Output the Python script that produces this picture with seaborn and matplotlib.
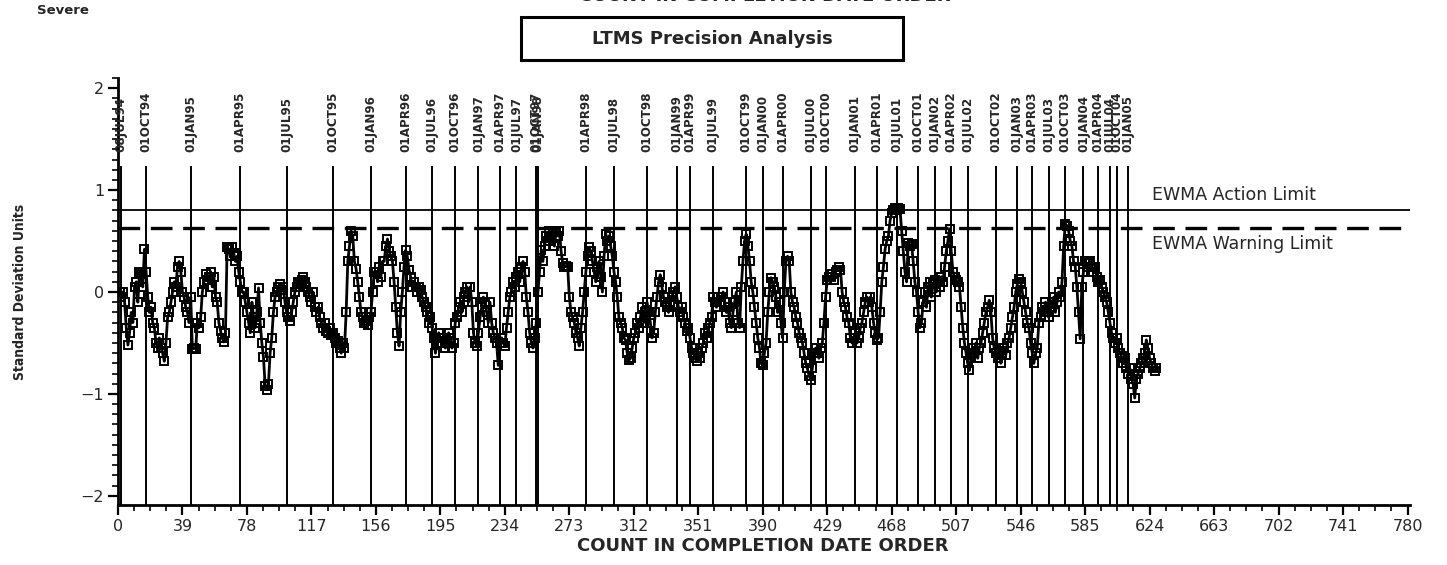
import matplotlib
matplotlib.use("Agg")
import numpy as np
import pandas as pd
import seaborn as sns
import matplotlib.pyplot as plt
from matplotlib.patches import Rectangle
from matplotlib.ticker import MultipleLocator
from matplotlib import font_manager

# ---------------- data ----------------
ewma = [
    0.0, -0.05, 0.0, -0.1, -0.35,
    -0.52, -0.4, -0.2, -0.3, 0.05,
    0.1, -0.1, 0.2, 0.18, 0.05,
    0.42, 0.2, -0.05, -0.2, -0.15,
    -0.3, -0.35, -0.5, -0.55, -0.45,
    -0.55, -0.6, -0.68, -0.5, -0.25,
    -0.2, -0.1, 0.0, 0.1, 0.05,
    0.25, 0.3, 0.2, 0.0, -0.05,
    -0.15, -0.2, -0.3, -0.05, -0.56,
    -0.55, -0.56, -0.3, -0.35, -0.25,
    0.0, 0.1, 0.18, 0.12, 0.15,
    0.2, 0.05, 0.15, -0.05, -0.1,
    -0.3, -0.38, -0.45, -0.49, -0.4,
    0.44, 0.42, 0.35, 0.44, 0.38,
    0.3, 0.35, 0.2, 0.1, 0.0,
    0.0, -0.1, -0.2, -0.3, -0.4,
    -0.1, -0.25, -0.35, -0.2, 0.04,
    -0.3, -0.5, -0.64, -0.92, -0.96,
    -0.9, -0.6, -0.45, -0.2, -0.05,
    0.0, 0.05, 0.08, 0.02, 0.05,
    -0.1, -0.2, -0.25, -0.28, -0.2,
    -0.1, 0.0, 0.05, 0.1, 0.08,
    0.12, 0.15, 0.1, 0.05, 0.0,
    -0.05, -0.1, 0.0, -0.15, -0.2,
    -0.15, -0.25, -0.3, -0.35, -0.3,
    -0.38, -0.4, -0.35, -0.42, -0.4,
    -0.45, -0.5, -0.48, -0.55, -0.6,
    -0.5, -0.55, -0.2, 0.3, 0.45,
    0.6, 0.55, 0.3, 0.23, 0.1,
    -0.05, -0.2, -0.25, -0.3, -0.28,
    -0.32, -0.25, -0.2, 0.0, 0.2,
    0.2, 0.1, 0.25, 0.15, 0.3,
    0.3, 0.45, 0.52, 0.4, 0.35,
    0.3, 0.1, -0.15, -0.4, -0.53,
    -0.2, 0.0, 0.25, 0.41, 0.35,
    0.22, 0.15, 0.05, 0.1, 0.05,
    0.0, 0.05, 0.02, -0.05, -0.1,
    -0.15, -0.2, -0.3, -0.25, -0.35,
    -0.45, -0.6, -0.5, -0.4, -0.45,
    -0.5, -0.45, -0.55, -0.5, -0.4,
    -0.45, -0.55, -0.5, -0.3, -0.25,
    -0.15, -0.1, -0.2, -0.05, 0.0,
    0.05, -0.1, 0.05, -0.1, -0.4,
    -0.5, -0.53, -0.4, -0.25, -0.15,
    -0.05, -0.1, -0.2, -0.3, -0.1,
    -0.3, -0.4, -0.45, -0.5, -0.72,
    -0.5, -0.45, -0.5, -0.53, -0.35,
    -0.2, -0.05, 0.0, 0.1, 0.05,
    0.15, 0.2, 0.1, 0.25, 0.3,
    0.2, -0.05, -0.2, -0.4, -0.5,
    -0.55, -0.45, -0.3, 0.0, 0.2,
    0.41, 0.3, 0.45, 0.55, 0.5,
    0.6, 0.55, 0.6, 0.45, 0.6,
    0.55, 0.6, 0.4, 0.28, 0.25,
    0.26, 0.25, -0.05, -0.2, -0.25,
    -0.3, -0.4, -0.45, -0.53, -0.35,
    -0.2, 0.0, 0.2, 0.35, 0.44,
    0.4, 0.3, 0.2, 0.1, 0.25,
    0.3, 0.15, 0.0, 0.35, 0.57,
    0.5, 0.55, 0.45, 0.35, 0.2,
    0.1, -0.05, -0.25, -0.3, -0.35,
    -0.45, -0.47, -0.6, -0.67, -0.65,
    -0.55, -0.45, -0.4, -0.3, -0.35,
    -0.25, -0.15, -0.3, -0.2, -0.1,
    -0.2, -0.3, -0.45, -0.4, -0.2,
    -0.05, 0.1, 0.17, 0.05, -0.05,
    -0.1, -0.15, -0.2, -0.1, -0.05,
    0.0, 0.05, -0.05, -0.15, -0.2,
    -0.15, -0.25, -0.3, -0.38, -0.35,
    -0.45, -0.55, -0.6, -0.65, -0.68,
    -0.6, -0.65, -0.55, -0.5, -0.4,
    -0.45, -0.35, -0.3, -0.25, -0.05,
    -0.1, -0.15, -0.05, -0.1, -0.05,
    0.0, -0.1, -0.2, -0.15, -0.3,
    -0.35, -0.2, -0.1, 0.0, -0.3,
    -0.35, 0.05, 0.3, 0.5, 0.57,
    0.45, 0.3, 0.1, 0.0, -0.15,
    -0.3, -0.45, -0.55, -0.7, -0.72,
    -0.6, -0.5, -0.2, 0.0, 0.14,
    0.1, 0.05, -0.05, -0.2, -0.1,
    -0.3, -0.45, 0.0, 0.3, 0.35,
    0.3, 0.0, -0.1, -0.15, -0.25,
    -0.3, -0.4, -0.45, -0.5, -0.6,
    -0.7, -0.75, -0.82, -0.86, -0.75,
    -0.6, -0.55, -0.6, -0.65, -0.55,
    -0.5, -0.3, -0.05, 0.12, 0.15,
    0.15, 0.18, 0.12, 0.2, 0.22,
    0.25, 0.22, 0.0, -0.1, -0.15,
    -0.25, -0.3, -0.45, -0.5, -0.45,
    -0.4, -0.5, -0.45, -0.35, -0.3,
    -0.2, -0.1, -0.05, -0.1, -0.05,
    -0.15, -0.3, -0.4, -0.47, -0.45,
    -0.2, 0.1, 0.25, 0.42, 0.5,
    0.55, 0.7, 0.78, 0.8, 0.82,
    0.8, 0.82, 0.81, 0.6, 0.4,
    0.2, 0.1, 0.48, 0.45, 0.47,
    0.3, 0.1, 0.0, -0.2, -0.35,
    -0.3, -0.1, 0.0, -0.15, 0.05,
    0.1, -0.05, 0.08, 0.12, 0.0,
    0.1, 0.05, 0.15, 0.1, 0.25,
    0.4, 0.5, 0.62, 0.4, 0.2,
    0.15, 0.12, 0.1, 0.05, -0.15,
    -0.35, -0.5, -0.6, -0.7, -0.77,
    -0.65, -0.55, -0.6, -0.5, -0.65,
    -0.55, -0.5, -0.4, -0.3, -0.2,
    -0.15, -0.08, -0.2, -0.45, -0.55,
    -0.6, -0.65, -0.58, -0.7, -0.6,
    -0.55, -0.62, -0.5, -0.45, -0.35,
    -0.25, -0.15, 0.0, 0.08, 0.13,
    0.1, 0.0, -0.1, -0.2, -0.3,
    -0.35, -0.5, -0.6, -0.7, -0.6,
    -0.55, -0.3, -0.25, -0.15, -0.2,
    -0.1, -0.2, -0.25, -0.15, -0.1,
    -0.05, -0.2, -0.1, 0.0, -0.05,
    0.1, 0.45, 0.67, 0.65, 0.6,
    0.5, 0.45, 0.3, 0.25, 0.05,
    -0.2, -0.46, 0.05, 0.2, 0.3,
    0.25, 0.28, 0.3, 0.25, 0.2,
    0.25, 0.15, 0.1, 0.12, 0.05,
    0.0, -0.05, -0.1, -0.2, -0.3,
    -0.4, -0.45, -0.5, -0.45, -0.55,
    -0.6, -0.63, -0.7, -0.65, -0.75,
    -0.8, -0.75, -0.85, -0.9, -1.04,
    -0.85, -0.8, -0.75, -0.7, -0.65,
    -0.6, -0.47, -0.55, -0.65, -0.7,
    -0.75, -0.78, -0.75,
]
counts = list(range(1, len(ewma) + 1))

date_labels = [
    "08JUL94", "01OCT94", "01JAN95", "01APR95", "01JUL95", "01OCT95",
    "01JAN96", "01APR96", "01JUL96", "01OCT96", "01JAN97", "01APR97",
    "01JUL97", "01OCT97", "01JAN98", "01APR98", "01JUL98", "01OCT98",
    "01JAN99", "01APR99", "01JUL99", "01OCT99", "01JAN00", "01APR00",
    "01JUL00", "01OCT00", "01JAN01", "01APR01", "01JUL01", "01OCT01",
    "01JAN02", "01APR02", "01JUL02", "01OCT02", "01JAN03", "01APR03",
    "01JUL03", "01OCT03", "01JAN04", "01APR04", "01JUL04", "01OCT04",
    "01JAN05",
]
date_counts = [
    2, 17, 44, 74, 102, 130,
    153, 174, 190, 204, 218, 231,
    241, 253, 254, 283, 300, 320,
    338, 346, 360, 380, 390, 402,
    419, 428, 446, 459, 471, 484,
    494, 504, 514, 531, 544, 553,
    563, 573, 584, 593, 600, 604,
    611,
]

action_limit = 0.80
warning_limit = 0.63

x_ticks = list(range(0, 781, 39))
y_ticks = [-2, -1, 0, 1, 2]

# ---------------- style ----------------
sns.set_style("ticks")
plt.rcParams["font.family"] = ["DejaVu Sans"]
plt.rcParams["axes.unicode_minus"] = True

fonts = font_manager.fontManager.ttflist
has_narrow = any(f.name == "Liberation Sans Narrow" for f in fonts)
has_dv_cond = any(f.name == "DejaVu Sans" and "condensed" in str(f.stretch).lower()
                  for f in fonts)
if has_narrow:
    narrow = dict(family=["Liberation Sans Narrow", "DejaVu Sans"], size=11.5,
                  stretch="normal")
    ylab_size = 11.5
elif has_dv_cond:
    narrow = dict(family=["DejaVu Sans"], size=9.5, stretch="condensed")
    ylab_size = 10
else:
    narrow = dict(family=["Liberation Sans", "DejaVu Sans"], size=9.8,
                  stretch="normal")
    ylab_size = 11

W, H = 1447, 565
fig = plt.figure(figsize=(W / 100, H / 100), dpi=100)
ax = fig.add_axes([118 / W, 1 - 505 / H, (1410 - 118) / W, (505 - 78) / H])

df = pd.DataFrame({"count": counts, "ewma": ewma})
sns.lineplot(data=df, x="count", y="ewma", ax=ax, color="black",
             linewidth=2.0, marker="s", markersize=5.6,
             markerfacecolor="none", markeredgecolor="black",
             markeredgewidth=1.4, zorder=3)

ax.set_xlim(0, 781.5)
ax.set_ylim(-2.09, 2.10)

ax.axhline(action_limit, color="black", lw=1.3, zorder=2)
ax.axhline(warning_limit, color="black", lw=2.4, ls=(0, (6.5, 3.2)), zorder=2)

ax.vlines(date_counts, -2.09, 1.24, colors="black", lw=1.4, zorder=2)
for xc, lab in zip(date_counts, date_labels):
    ax.text(xc, 1.37, lab, rotation=90, ha="center", va="bottom",
            fontsize=narrow["size"], fontweight="bold",
            family=narrow["family"], fontstretch=narrow["stretch"])

ax.text(625.5, 0.86, "EWMA Action Limit", fontsize=12.5,
        ha="left", va="bottom")
ax.text(625.5, 0.56, "EWMA Warning Limit", fontsize=12.5,
        ha="left", va="top")

ax.set_xticks(x_ticks)
ax.set_yticks(y_ticks)
ax.xaxis.set_minor_locator(MultipleLocator(9.75))
ax.yaxis.set_minor_locator(MultipleLocator(0.1))
ax.tick_params(axis="both", which="major", length=7, width=1.6,
               labelsize=11.5, direction="out", color="black")
ax.tick_params(axis="both", which="minor", length=4, width=1.2,
               direction="out", color="black")
ax.tick_params(axis="x", pad=3)
ax.tick_params(axis="y", pad=3)
ax.set_xlabel("")
ax.set_ylabel("")
sns.despine(ax=ax)
for s in ("left", "bottom"):
    ax.spines[s].set_linewidth(2.0)
    ax.spines[s].set_color("black")

fig.text(763 / W, 1 - 546 / H, "COUNT IN COMPLETION DATE ORDER",
         ha="center", va="center", fontsize=13, fontweight="bold")
fig.text(20 / W, 1 - 292 / H, "Standard Deviation Units", rotation=90,
         ha="center", va="center", fontsize=ylab_size, fontweight="bold",
         family=narrow["family"], fontstretch=narrow["stretch"])
fig.text(37 / W, 1 - 10 / H, "Severe", ha="left", va="center",
         fontsize=9.5, fontweight="bold")
# title line that is clipped by the top edge of the image, as in the source
fig.text(765 / W, 1 + 4 / H, "COUNT IN COMPLETION DATE ORDER",
         ha="center", va="center", fontsize=13, fontweight="bold")

fig.patches.append(Rectangle((521 / W, 1 - 60 / H), (903 - 521) / W, 43 / H,
                             transform=fig.transFigure, fill=False,
                             edgecolor="black", lw=2.2))
fig.text(712 / W, 1 - 39 / H, "LTMS Precision Analysis", ha="center",
         va="center", fontsize=13, fontweight="bold")

fig.savefig("out.png", dpi=100)
